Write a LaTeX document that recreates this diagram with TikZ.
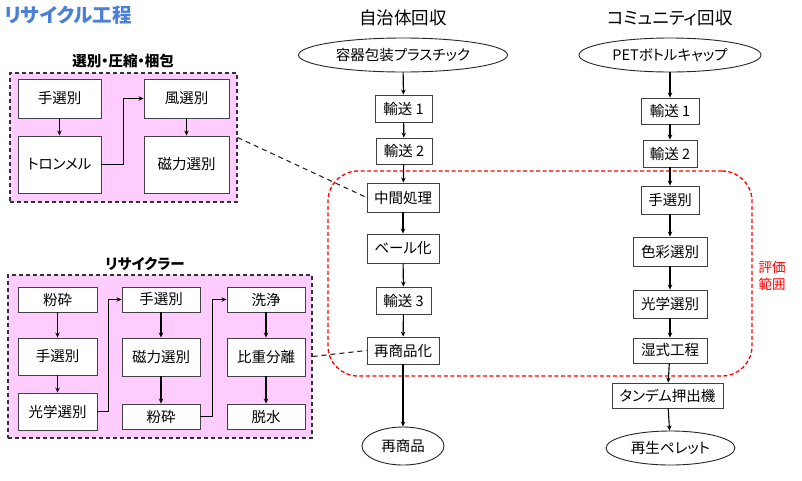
\documentclass[tikz,border=0pt]{standalone}
\usepackage{fontspec}
\newfontfamily\jp[RawFeature=+palt]{Noto Sans CJK JP}
\usetikzlibrary{arrows.meta}
\definecolor{pinkfill}{HTML}{FFCCFF}
\definecolor{titleblue}{HTML}{4A7FD6}
\definecolor{evalred}{HTML}{FF0000}
\tikzset{
  box/.style={draw=black!75, fill=white, line width=0.9pt, inner sep=0pt,
    font=\jp\fontsize{14.5}{16}\selectfont, text=black},
  oval/.style={ellipse, draw=black!85, fill=white, line width=0.9pt, inner sep=0pt,
    font=\jp\fontsize{14.5}{16}\selectfont},
  frame/.style={draw=black!80, fill=pinkfill, dash pattern=on 4pt off 3pt, line width=1.1pt, inner sep=0pt},
  glabel/.style={font=\jp\bfseries\fontsize{14.5}{16}\selectfont, inner sep=0pt},
  coltitle/.style={font=\jp\fontsize{17.5}{19}\selectfont, inner sep=0pt},
  arr/.style={draw=black, line width=1.1pt, -{Stealth[length=5pt,width=4.5pt]}},
  conn/.style={draw=black!85, line width=1.1pt, dash pattern=on 5pt off 4pt},
  evalbox/.style={draw=evalred, dash pattern=on 4pt off 2.5pt, line width=1.3pt, rounded corners=30pt, inner sep=0pt},
}
\usetikzlibrary{shapes.geometric}
\begin{document}
\begin{tikzpicture}[x=1pt,y=-1pt]
\useasboundingbox (0,0) rectangle (802,480);

% title
\node[font=\jp\bfseries\fontsize{19.5}{21}\selectfont, text=titleblue, anchor=west, inner sep=0pt] (title) at (4,15) {リサイクル工程};

% group 1
\node[frame, minimum width=227, minimum height=129] (g1) at (123.5,137.5) {};
\node[glabel] (g1l) at (123,61) {選別・圧縮・梱包};
\node[box, minimum width=83, minimum height=39] (a1) at (59.5,98.5) {手選別};
\node[box, minimum width=83, minimum height=57] (a2) at (59.5,164.5) {トロンメル};
\node[box, minimum width=85, minimum height=39] (a3) at (186.5,98.5) {風選別};
\node[box, minimum width=85, minimum height=57] (a4) at (186.5,164.5) {磁力選別};
\draw[arr] (a1) -- (a2);
\draw[arr] (a3) -- (a4);
\draw[arr] (a2.east) -- ++(22,0) |- (a3.west);

% group 2
\node[frame, minimum width=304, minimum height=163] (g2) at (160,356.5) {};
\node[glabel] (g2l) at (145,264) {リサイクラー};
\node[box, minimum width=79, minimum height=25] (b1) at (57.5,299.5) {粉砕};
\node[box, minimum width=79, minimum height=37] (b2) at (57.5,356.5) {手選別};
\node[box, minimum width=79, minimum height=37] (b3) at (57.5,411.5) {光学選別};
\node[box, minimum width=78, minimum height=25] (b4) at (161,299.5) {手選別};
\node[box, minimum width=78, minimum height=38] (b5) at (161,357) {磁力選別};
\node[box, minimum width=78, minimum height=25] (b6) at (161,416.5) {粉砕};
\node[box, minimum width=78, minimum height=25] (b7) at (266,299.5) {洗浄};
\node[box, minimum width=78, minimum height=38] (b8) at (266,357) {比重分離};
\node[box, minimum width=78, minimum height=25] (b9) at (266,416.5) {脱水};
\draw[arr] (b1) -- (b2);
\draw[arr] (b2) -- (b3);
\draw[arr] (b3.east) -- ++(11,0) |- (b4.west);
\draw[arr] (b4) -- (b5);
\draw[arr] (b5) -- (b6);
\draw[arr] (b6.east) -- ++(12,0) |- (b7.west);
\draw[arr] (b7) -- (b8);
\draw[arr] (b8) -- (b9);

% evaluation range
\node[evalbox, minimum width=424, minimum height=205] (ev) at (540,273.5) {};
\node[font=\jp\fontsize{13.5}{17}\selectfont, text=evalred, align=center, inner sep=0pt] (evl) at (772,276) {評価\\範囲};

% center column
\node[coltitle] (t1) at (403,18) {自治体回収};
\node[oval, minimum width=209, minimum height=34] (c0) at (403,55) {容器包装プラスチック};
\node[box, minimum width=57, minimum height=27] (c1) at (403.5,108.5) {輸送 1};
\node[box, minimum width=56, minimum height=26] (c2) at (404,151) {輸送 2};
\node[box, minimum width=72, minimum height=29] (c3) at (403,197.5) {中間処理};
\node[box, minimum width=72, minimum height=29] (c4) at (403,248.5) {ベール化};
\node[box, minimum width=55, minimum height=27] (c5) at (403.5,300.5) {輸送 3};
\node[box, minimum width=72, minimum height=27] (c6) at (403,350.5) {再商品化};
\node[oval, minimum width=82, minimum height=38] (c7) at (403,446) {再商品};
\draw[arr] (c0) -- (c1);
\draw[arr] (c1) -- (c2);
\draw[arr] (c2) -- (c3);
\draw[arr] (c3) -- (c4);
\draw[arr] (c4) -- (c5);
\draw[arr] (c5) -- (c6);
\draw[arr] (c6) -- (c7);

% right column
\node[coltitle] (t2) at (670,18) {コミュニティ回収};
\node[oval, minimum width=182, minimum height=34] (d0) at (670,55) {PETボトルキャップ};
\node[box, minimum width=58, minimum height=26] (d1) at (670,111) {輸送 1};
\node[box, minimum width=54, minimum height=27] (d2) at (670,153.5) {輸送 2};
\node[box, minimum width=58, minimum height=28] (d3) at (670,200) {手選別};
\node[box, minimum width=74, minimum height=29] (d4) at (670,251.5) {色彩選別};
\node[box, minimum width=74, minimum height=28] (d5) at (670,304) {光学選別};
\node[box, minimum width=74, minimum height=25] (d6) at (670,350.5) {湿式工程};
\node[box, minimum width=111, minimum height=25] (d7) at (667.5,395.5) {タンデム押出機};
\node[oval, minimum width=129, minimum height=34] (d8) at (670.5,448) {再生ペレット};
\draw[arr] (d0) -- (d1);
\draw[arr] (d1) -- (d2);
\draw[arr] (d2) -- (d3);
\draw[arr] (d3) -- (d4);
\draw[arr] (d4) -- (d5);
\draw[arr] (d5) -- (d6);
\draw[arr] (d6) -- (d7);
\draw[arr] (d7) -- (d8);

% dashed links
\draw[conn] (g1.east) -- (c3.west);
\draw[conn] (g2.east) -- (c6.west);
\end{tikzpicture}
\end{document}
